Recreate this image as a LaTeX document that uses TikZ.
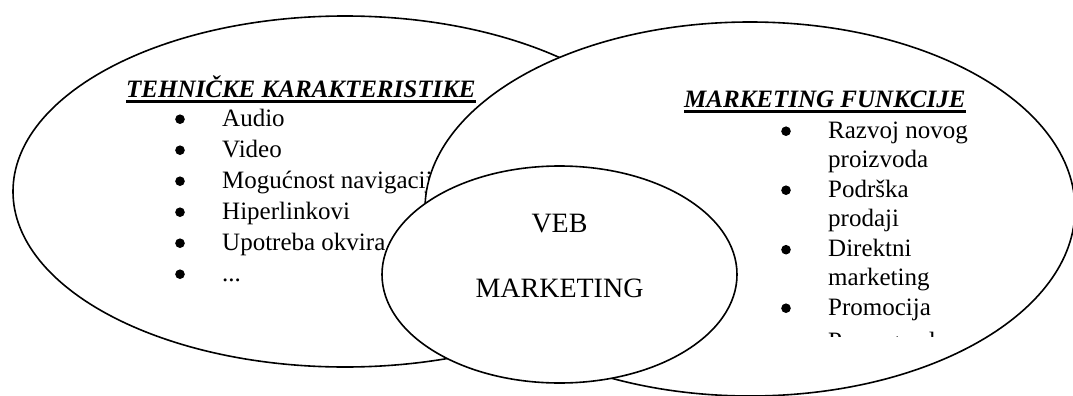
\documentclass[tikz,border=0pt]{standalone}
\usepackage{fontspec}
\setmainfont{Liberation Serif}
\usetikzlibrary{shapes.geometric}

\tikzset{
  set/.style={draw, fill=white, line width=1.6pt, ellipse, inner sep=0pt},
  item/.style={anchor=base west, inner sep=0pt, font=\fontsize{25}{30}\selectfont},
  head/.style={anchor=base west, inner sep=0pt, font=\fontsize{25}{30}\selectfont\bfseries\itshape},
  core/.style={anchor=base, inner sep=0pt, font=\fontsize{28}{32}\selectfont},
}
% underlined heading: text with a heavy rule below the baseline
\newcommand{\ulhead}[1]{\setbox0\hbox{#1}\rlap{\vrule height -3.4pt depth 5.6pt width \wd0}\box0}
% list bullet at a given text start and baseline
\newcommand{\dotat}[2]{\fill (#1-42,#2-6.8) circle (4.8);}

\begin{document}
\begin{tikzpicture}[x=1pt,y=-1pt]
\useasboundingbox (0,0) rectangle (1073,396);
\clip (0,0) rectangle (1073,396);

% left set: technical features
\node[set, minimum width=664pt, minimum height=351pt] (tech) at (345,191.5) {};
\node[head] (techtitle) at (126,97) {\ulhead{TEHNIČKE KARAKTERISTIKE}};
\foreach \t/\y [count=\i] in {Audio/126, Video/157, Mogućnost navigacije/188, Hiperlinkovi/219, Upotreba okvira/250}{
  \dotat{222}{\y}
  \node[item] (tech\i) at (222,\y) {\t};
}
\dotat{222}{281}
\node[item] (tech6) at (222,281) {...};

% right set: marketing functions
\node[set, minimum width=650pt, minimum height=374pt] (mkt) at (750,209) {};
\node[head] (mkttitle) at (684,107) {\ulhead{MARKETING FUNKCIJE}};
\foreach \y in {138,197,256.5,315}{ \dotat{828}{\y} }
\foreach \t/\y [count=\i] in {Razvoj novog/138, proizvoda/167, Podrška/197, prodaji/226.5, Direktni/256.5, marketing/285.5, Promocija/315}{
  \node[item] (mkt\i) at (828,\y) {\t};
}
\begin{scope}
  \clip (780,320) rectangle (1000,336);
  \node[item] (mkt8) at (828,349) {Propaganda};
\end{scope}

% overlap: web marketing
\node[set, minimum width=355pt, minimum height=217pt] (web) at (559.5,274.5) {};
\node[core] (webtop) at (559.5,232) {VEB};
\node[core] (webbot) at (559.5,297) {MARKETING};
\end{tikzpicture}
\end{document}
